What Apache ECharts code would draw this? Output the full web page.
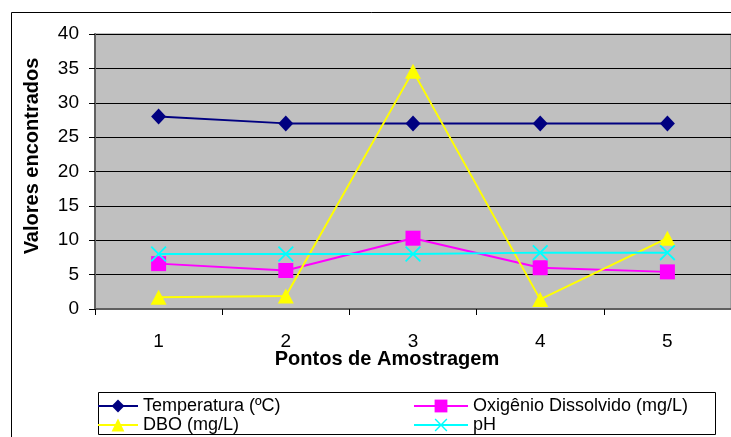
<!DOCTYPE html>
<html>
<head>
<meta charset="utf-8">
<script src="https://cdn.jsdelivr.net/npm/echarts@6/dist/echarts.min.js"></script>
<style>
  html, body { margin: 0; padding: 0; background: #fff; }
  #chart { width: 731px; height: 437px; }
</style>
</head>
<body>
<div id="chart"></div>
<script>
const pontos = ['1', '2', '3', '4', '5']
const temperatura = [28, 27, 27, 27, 27]
const oxigenio = [6.6, 5.6, 10.3, 6.0, 5.4]
const dbo = [1.7, 1.9, 34.6, 1.4, 10.3]
const ph = [8.0, 8.0, 8.0, 8.2, 8.2]

const font = '"Liberation Sans", Arial, sans-serif'
const crossPath = 'path://M0,0.8L0.8,0L5,4.2L9.2,0L10,0.8L5.8,5L10,9.2L9.2,10L5,5.8L0.8,10L0,9.2L4.2,5Z'

const chart = echarts.init(document.getElementById('chart'))

function lineSeries(name, data, color, symbol, size) {
  return {
    name,
    type: 'line',
    data,
    symbol,
    symbolSize: size,
    showAllSymbol: true,
    lineStyle: { color, width: 2 },
    itemStyle: { color, borderWidth: 0 },
    emphasis: { disabled: true },
    animation: false,
  }
}

const legendText = { color: '#000', fontFamily: font, fontSize: 18, lineHeight: 16 }

chart.setOption({
  backgroundColor: '#fff',
  animation: false,
  textStyle: { fontFamily: font },
  grid: {
    left: 95, top: 34, width: 640, height: 275,
    show: true, backgroundColor: '#c0c0c0', borderColor: '#808080', borderWidth: 1,
  },
  xAxis: {
    type: 'category',
    data: pontos,
    boundaryGap: true,
    axisLine: { lineStyle: { color: '#606060', width: 2 } },
    axisTick: { show: true, interval: 0, length: 6, lineStyle: { color: '#000' } },
    axisLabel: { color: '#000', fontSize: 19, margin: 23, fontFamily: font },
    splitLine: { show: false },
  },
  yAxis: {
    type: 'value',
    min: 0, max: 40, interval: 5,
    axisLine: { show: true, lineStyle: { color: '#606060', width: 2 } },
    axisTick: { show: true, length: 6, lineStyle: { color: '#000' } },
    axisLabel: { color: '#000', fontSize: 19, margin: 16, fontFamily: font },
    splitLine: { lineStyle: { color: '#000', width: 1 } },
  },
  legend: [
    {
      left: 97, top: 397, orient: 'vertical', padding: 0,
      itemWidth: 40, itemHeight: 16, itemGap: 1,
      data: ['Temperatura (ºC)', 'DBO (mg/L)'],
      lineStyle: { width: 2 },
      textStyle: legendText,
      selectedMode: false,
    },
    {
      left: 413, top: 397, orient: 'vertical', padding: 0,
      itemWidth: 54, itemHeight: 16, itemGap: 1,
      data: ['Oxigênio Dissolvido (mg/L)', 'pH'],
      lineStyle: { width: 2 },
      textStyle: legendText,
      selectedMode: false,
    },
  ],
  graphic: [
    {
      type: 'rect', silent: true, z: -1,
      shape: { x: 11.5, y: 12.5, width: 800, height: 500 },
      style: { fill: 'none', stroke: '#000', lineWidth: 1 },
    },
    {
      type: 'rect', silent: true, z: -1,
      shape: { x: 98.5, y: 392.5, width: 617, height: 42 },
      style: { fill: '#fff', stroke: '#000', lineWidth: 1 },
    },
    {
      type: 'text', silent: true, x: 387, y: 359,
      style: {
        text: 'Pontos de Amostragem', fill: '#000', font: 'bold 20px ' + font,
        align: 'center', verticalAlign: 'middle',
      },
    },
    {
      type: 'text', silent: true, x: 32, y: 156, rotation: Math.PI / 2,
      style: {
        text: 'Valores encontrados', fill: '#000', font: 'bold 20px ' + font,
        align: 'center', verticalAlign: 'middle',
      },
    },
  ],
  series: [
    lineSeries('Temperatura (ºC)', temperatura, '#000080', 'diamond', [15, 16]),
    lineSeries('Oxigênio Dissolvido (mg/L)', oxigenio, '#ff00ff', 'rect', 15),
    lineSeries('DBO (mg/L)', dbo, '#ffff00', 'triangle', [16, 15]),
    lineSeries('pH', ph, '#00ffff', crossPath, 16),
  ],
})
</script>
</body>
</html>
